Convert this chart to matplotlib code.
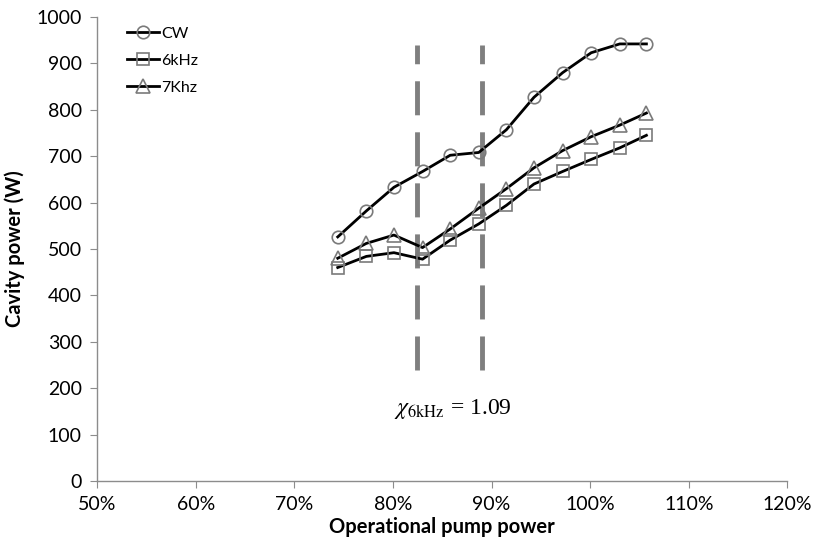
import matplotlib
matplotlib.use("Agg")
import matplotlib.pyplot as plt
from matplotlib.ticker import FuncFormatter

pump = [74.4, 77.3, 80.1, 83.0, 85.8, 88.7, 91.5, 94.3, 97.2, 100.1, 103.0, 105.7]
cw = [526, 582, 633, 667, 702, 708, 757, 827, 880, 923, 942, 942]
khz6 = [460, 484, 492, 478, 519, 554, 594, 640, 667, 693, 718, 745]
khz7 = [480, 512, 530, 503, 543, 588, 630, 675, 712, 742, 767, 793]
labels = ["CW", "6kHz", "7Khz"]
dash_x = [82.4, 89.0]
dash_y = [240, 940]

plt.rcParams['font.family'] = ['Lato', 'DejaVu Sans']
plt.rcParams['mathtext.fontset'] = 'stix'

fig = plt.figure(figsize=(8.16, 5.49), dpi=100)
ax = fig.add_axes([0.119, 0.124, 0.846, 0.845])

for xv in dash_x:
    ax.plot([xv, xv], dash_y, color='#7f7f7f', lw=3.5, dashes=(7, 3.5), zorder=1)

gray = '#7a7a7a'
ax.plot(pump, cw, color='black', lw=2, marker='o', ms=9, mfc='none', mec=gray, mew=1.2, label=labels[0], zorder=3)
ax.plot(pump, khz6, color='black', lw=2, marker='s', ms=9, mfc='none', mec=gray, mew=1.2, label=labels[1], zorder=3)
ax.plot(pump, khz7, color='black', lw=2, marker='^', ms=10, mfc='none', mec=gray, mew=1.2, label=labels[2], zorder=3)

ax.set_xlim(50, 120)
ax.set_ylim(0, 1000)
ax.set_xticks(range(50, 121, 10))
ax.set_yticks(range(0, 1001, 100))
ax.xaxis.set_major_formatter(FuncFormatter(lambda v, p: f"{int(v)}%"))

for s in ['top', 'right']:
    ax.spines[s].set_visible(False)
for s in ['left', 'bottom']:
    ax.spines[s].set_color('#8c8c8c')
    ax.spines[s].set_linewidth(1)
ax.tick_params(axis='both', direction='out', length=5, color='#8c8c8c', labelsize=14, pad=6)

ax.set_xlabel("Operational pump power", fontsize=14.5, fontweight='bold', labelpad=3)
ax.set_ylabel("Cavity power (W)", fontsize=14.5, fontweight='bold', labelpad=8)

ax.text(86.1, 155, r"$\chi_{\mathrm{6kHz}}$" + " = 1.09", fontsize=17, family='Liberation Serif',
        ha='center', va='center')

leg = ax.legend(loc='upper left', bbox_to_anchor=(0.03, 1.0), frameon=False, fontsize=11.5,
                handlelength=2.0, handletextpad=0.1, labelspacing=0.8, borderaxespad=0.2)

fig.savefig("out.png", dpi=100)
